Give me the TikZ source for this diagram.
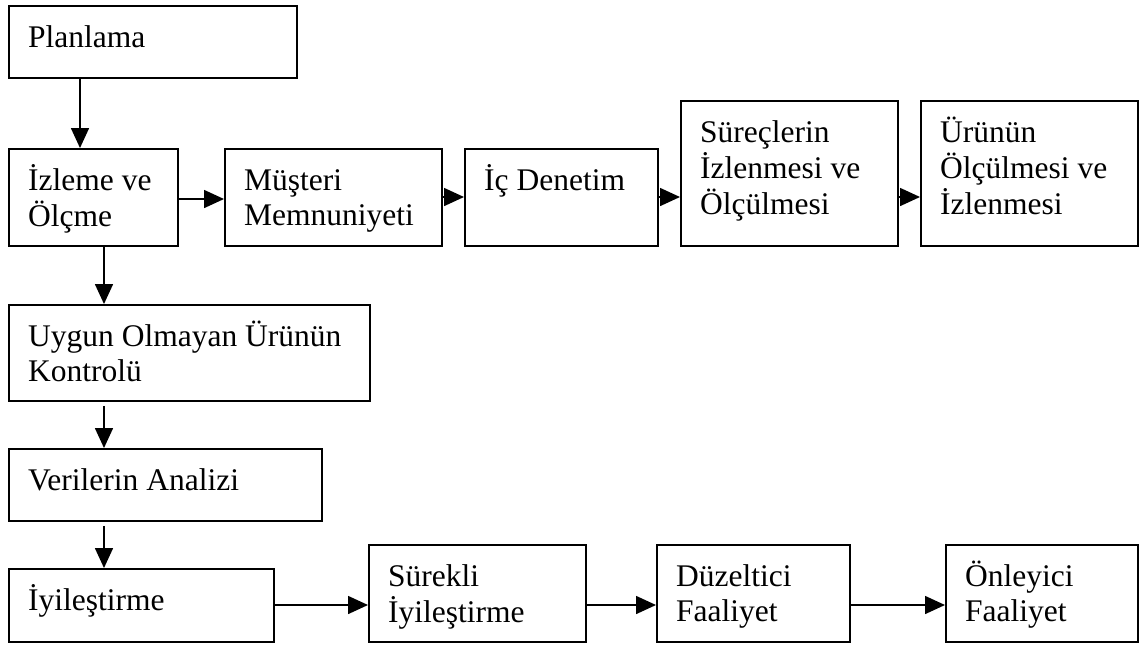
\documentclass[tikz,border=0pt]{standalone}
\usepackage{fontspec}
\setmainfont{Liberation Serif}
\usetikzlibrary{arrows.meta,calc}
\newcommand\mybox[6]{%
  \node[box,minimum width={#4-#2},minimum height={#5-#3}] (#1) at (#2,#3) {};
  \node[txt] (#1t) at ([shift={(20,42)}]#1.north west) {\begin{tabular}[t]{@{}l@{}}#6\end{tabular}};}
\begin{document}
\begin{tikzpicture}[x=1pt,y=-1pt,
  box/.style={draw,line width=1.8pt,rectangle,inner sep=0pt,anchor=north west},
  txt/.style={anchor=base west,inner sep=0pt,font=\fontsize{31.5}{35}\selectfont},
  arr/.style={line width=1.6pt,-{Triangle[length=20pt,width=18pt]}}]
\useasboundingbox (0,0) rectangle (1148,646);
\fill[white] (0,0) rectangle (1148,646);
\mybox{plan}{8}{5}{296}{77}{Planlama}
\mybox{izl}{8}{148}{177}{245}{İzleme ve\\Ölçme}
\mybox{mus}{224}{148}{441}{245}{Müşteri\\Memnuniyeti}
\mybox{ic}{464}{148}{657}{245}{İç Denetim}
\mybox{sur}{680}{100}{897}{245}{Süreçlerin\\İzlenmesi ve\\Ölçülmesi}
\mybox{urun}{920}{100}{1137}{245}{Ürünün\\Ölçülmesi ve\\İzlenmesi}
\mybox{uyg}{8}{304}{369}{400}{Uygun Olmayan Ürünün\\Kontrolü}
\mybox{ver}{8}{448}{321}{520}{Verilerin Analizi}
\mybox{iyi}{8}{568}{273}{641}{İyileştirme}
\mybox{sure}{368}{544}{585}{641}{Sürekli\\İyileştirme}
\mybox{duz}{656}{544}{849}{641}{Düzeltici\\Faaliyet}
\mybox{onl}{945}{544}{1137}{641}{Önleyici\\Faaliyet}
% vertical connectors
\draw[arr] ($(plan.south west)+(72,0)$) -- ($(izl.north west)+(72,0)$);
\draw[arr] ($(izl.south west)+(96,0)$) -- ($(uyg.north west)+(96,0)$);
\draw[arr] ($(uyg.south west)+(96,4)$) -- ($(ver.north west)+(96,0)$);
\draw[arr] ($(ver.south west)+(96,4)$) -- ($(iyi.north west)+(96,0)$);
% horizontal connectors, top row
\draw[arr] ($(izl.north east)+(0,51)$) -- ($(mus.north west)+(0,51)$);
\draw[arr] ($(mus.north east)+(0,49)$) -- ($(ic.north west)+(0,49)$);
\draw[arr] ($(ic.north east)+(0,49)$) -- ($(sur.north west)+(0,97)$);
\draw[arr] ($(sur.north east)+(0,97)$) -- ($(urun.north west)+(0,97)$);
% horizontal connectors, bottom row
\draw[arr] ($(iyi.north east)+(0,37)$) -- ($(sure.north west)+(0,61)$);
\draw[arr] ($(sure.north east)+(0,61)$) -- ($(duz.north west)+(0,61)$);
\draw[arr] ($(duz.north east)+(0,61)$) -- ($(onl.north west)+(0,61)$);
\end{tikzpicture}
\end{document}
